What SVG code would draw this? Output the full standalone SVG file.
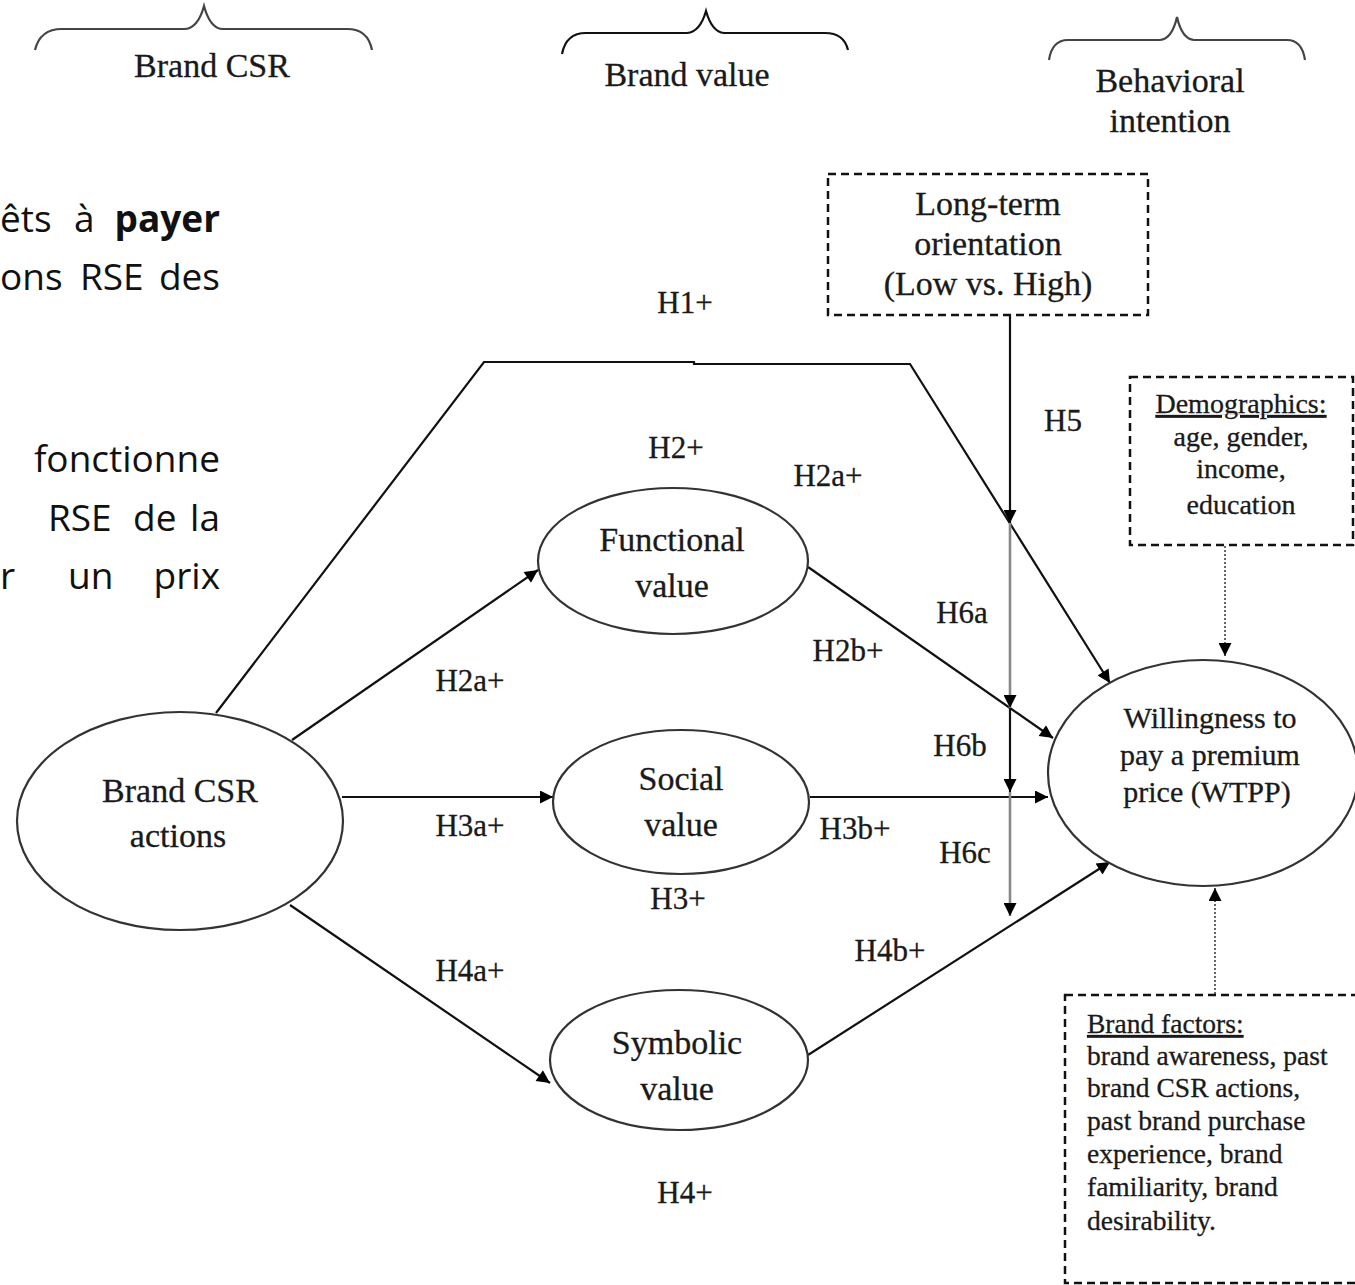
<svg xmlns="http://www.w3.org/2000/svg" width="1355" height="1285" viewBox="0 0 1355 1285">
<style>
.t{font-family:"Liberation Serif","Times New Roman",serif;fill:#1a1a1a;text-anchor:middle;stroke:#1a1a1a;stroke-width:0.3}
.big{font-size:34px}
.lab{font-size:31px}
.sm{font-size:28px}
.wt{font-size:30px}
.bf{font-size:27.5px;text-anchor:start}
.fr{font-family:"Open Sans","Noto Sans",sans-serif;font-size:37px;fill:#111}
.ln{fill:none;stroke:#111;stroke-width:2.2}
.gr{fill:none;stroke:#888;stroke-width:2.6}
.br{fill:none;stroke:#444;stroke-width:2.2}
.el{fill:#fff;stroke:#333;stroke-width:2.2}
.box{fill:#fff;stroke:#111;stroke-width:2.5;stroke-dasharray:8 5}
.dot{fill:none;stroke:#666;stroke-width:2;stroke-dasharray:2 2}
</style>
<defs>
<marker id="ah" viewBox="0 0 10 10" refX="10" refY="5" markerWidth="15" markerHeight="13" markerUnits="userSpaceOnUse" orient="auto"><path d="M0,0 L10,5 L0,10 z" fill="#000"/></marker>
</defs>
<rect width="1355" height="1285" fill="#fff"/>

<g id="braces">
<path class="br" d="M35,50 Q40,29 62,29 L185,29 Q198,28 204,6 Q210,28 222,29 L347,29 Q368,29 372,50"/>
<text class="t big" x="212" y="77">Brand CSR</text>
<path class="ln" d="M562,54 Q566,33 586,33 L687,33 Q700,32 706,11 Q712,32 724,33 L825,33 Q844,33 848,50"/>
<text class="t big" x="687" y="86">Brand value</text>
<path class="br" d="M1049,60 Q1052,40 1068,40 L1160,40 Q1172,39 1177,17 Q1182,39 1194,40 L1287,40 Q1302,40 1305,60"/>
<text class="t big" x="1170" y="92">Behavioral</text>
<text class="t big" x="1170" y="132">intention</text>
</g>

<g id="french-text" class="fr">
<text x="0" y="232">êts</text>
<text x="74" y="232">à</text>
<text x="220" y="232" text-anchor="end" font-weight="bold">payer</text>
<text x="0" y="290">ons</text>
<text x="80" y="290">RSE</text>
<text x="220" y="290" text-anchor="end">des</text>
<text x="220" y="472" text-anchor="end">fonctionne</text>
<text x="48" y="531">RSE</text>
<text x="133" y="531">de</text>
<text x="220" y="531" text-anchor="end">la</text>
<text x="0" y="589">r</text>
<text x="68" y="589">un</text>
<text x="220" y="589" text-anchor="end">prix</text>
</g>

<g id="connectors">
<path class="ln" d="M216,713 L484,362 L694,362 L694,364 L910,364 L1110,683" marker-end="url(#ah)"/>
<path class="ln" d="M292,740 L538,570" marker-end="url(#ah)"/>
<path class="ln" d="M808,567 L1053,738" marker-end="url(#ah)"/>
<path class="ln" d="M342,797 L553,797" marker-end="url(#ah)"/>
<path class="ln" d="M810,797 L1048,797" marker-end="url(#ah)"/>
<path class="ln" d="M290,905 L550,1083" marker-end="url(#ah)"/>
<path class="ln" d="M808,1055 L1110,862" marker-end="url(#ah)"/>
<path class="ln" d="M1010,315 L1010,523" marker-end="url(#ah)"/>
<path class="gr" d="M1010,523 L1010,708" marker-end="url(#ah)"/>
<path class="ln" d="M1010,708 L1010,792" marker-end="url(#ah)"/>
<path class="gr" d="M1010,792 L1010,916" marker-end="url(#ah)"/>
<path class="dot" d="M1225,546 L1225,656" marker-end="url(#ah)"/>
<path class="dot" d="M1215,994 L1215,888" marker-end="url(#ah)"/>
</g>

<g id="labels" class="t lab">
<text x="685" y="313">H1+</text>
<text x="676" y="458">H2+</text>
<text x="828" y="486">H2a+</text>
<text x="470" y="691">H2a+</text>
<text x="1063" y="431">H5</text>
<text x="962" y="623">H6a</text>
<text x="848" y="661">H2b+</text>
<text x="960" y="756">H6b</text>
<text x="470" y="836">H3a+</text>
<text x="855" y="839">H3b+</text>
<text x="965" y="863">H6c</text>
<text x="678" y="909">H3+</text>
<text x="890" y="961">H4b+</text>
<text x="470" y="981">H4a+</text>
<text x="685" y="1203">H4+</text>
</g>

<g id="brand-csr-actions">
<ellipse class="el" cx="180" cy="821" rx="163" ry="109"/>
<text class="t big" x="180" y="802">Brand CSR</text>
<text class="t big" x="178" y="847">actions</text>
</g>

<g id="functional-value">
<ellipse class="el" cx="673" cy="561" rx="135" ry="73"/>
<text class="t big" x="672" y="551">Functional</text>
<text class="t big" x="672" y="597">value</text>
</g>

<g id="social-value">
<ellipse class="el" cx="681" cy="802" rx="128" ry="72"/>
<text class="t big" x="681" y="790">Social</text>
<text class="t big" x="681" y="836">value</text>
</g>

<g id="symbolic-value">
<ellipse class="el" cx="679" cy="1060" rx="129" ry="70"/>
<text class="t big" x="677" y="1054">Symbolic</text>
<text class="t big" x="677" y="1100">value</text>
</g>

<g id="wtpp">
<ellipse class="el" cx="1203" cy="773" rx="155" ry="113"/>
<text class="t wt" x="1210" y="728">Willingness to</text>
<text class="t wt" x="1210" y="765">pay a premium</text>
<text class="t wt" x="1207" y="802">price (WTPP)</text>
</g>

<g id="long-term-orientation">
<rect class="box" x="828" y="174" width="320" height="141"/>
<text class="t big" x="988" y="215">Long-term</text>
<text class="t big" x="988" y="255">orientation</text>
<text class="t big" x="988" y="295">(Low vs. High)</text>
</g>

<g id="demographics">
<rect class="box" x="1130" y="377" width="223" height="168"/>
<text class="t sm" x="1241" y="413" text-decoration="underline">Demographics:</text>
<text class="t sm" x="1241" y="446">age, gender,</text>
<text class="t sm" x="1241" y="478">income,</text>
<text class="t sm" x="1241" y="514">education</text>
</g>

<g id="brand-factors">
<rect class="box" x="1065" y="995" width="300" height="288"/>
<text class="t bf" x="1087" y="1033" text-decoration="underline">Brand factors:</text>
<text class="t bf" x="1087" y="1065">brand awareness, past</text>
<text class="t bf" x="1087" y="1097">brand CSR actions,</text>
<text class="t bf" x="1087" y="1130">past brand purchase</text>
<text class="t bf" x="1087" y="1163">experience, brand</text>
<text class="t bf" x="1087" y="1196">familiarity, brand</text>
<text class="t bf" x="1087" y="1230">desirability.</text>
</g>
</svg>
